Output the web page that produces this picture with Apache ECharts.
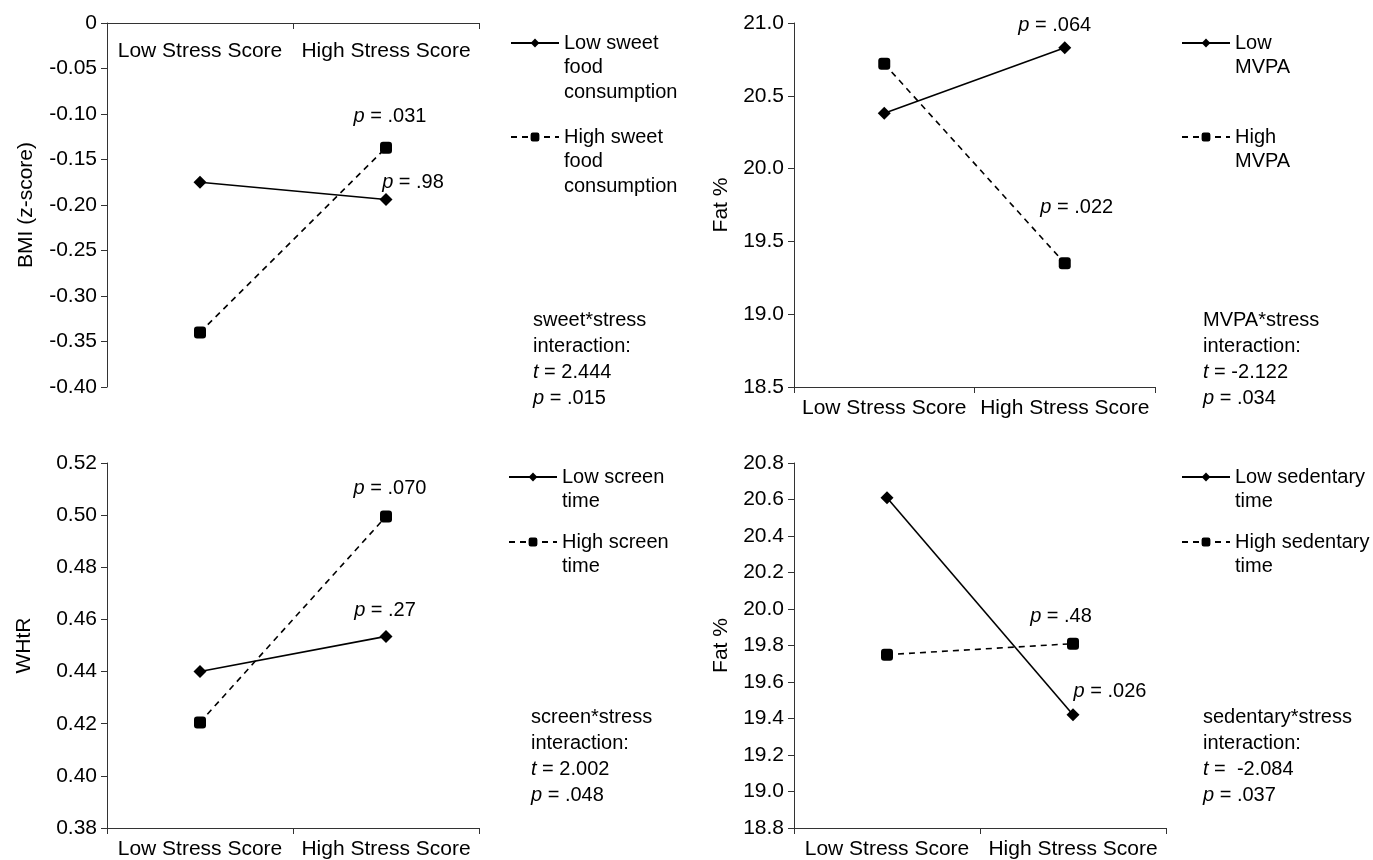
<!DOCTYPE html>
<html><head><meta charset="utf-8">
<script src="https://cdn.jsdelivr.net/npm/echarts@6/dist/echarts.min.js"></script>
<style>html,body{margin:0;padding:0;background:#fff}#c{width:1373px;height:860px}</style>
</head><body><div id="c"></div>
<script>
// ---------- data ----------
const categories = ['Low Stress Score', 'High Stress Score'];

const p1Names = ['Low sweet food consumption', 'High sweet food consumption'];
const p1Low = [-0.175, -0.194];
const p1High = [-0.340, -0.137];
const p1Ticks = ['-0.40', '-0.35', '-0.30', '-0.25', '-0.20', '-0.15', '-0.10', '-0.05', '0'];
const p1LowP = ['', '{i|p} = .98'];
const p1HighP = ['', '{i|p} = .031'];
const p1Legend = ['Low sweet\nfood\nconsumption', 'High sweet\nfood\nconsumption'];
const p1Inter = ['sweet*stress', 'interaction:', '{i|t} = 2.444', '{i|p} = .015'];

const p2Names = ['Low MVPA', 'High MVPA'];
const p2Low = [20.38, 20.83];
const p2High = [20.72, 19.35];
const p2Ticks = ['18.5', '19.0', '19.5', '20.0', '20.5', '21.0'];
const p2LowP = ['', '{i|p} = .064'];
const p2HighP = ['', '{i|p} = .022'];
const p2Legend = ['Low\nMVPA', 'High\nMVPA'];
const p2Inter = ['MVPA*stress', 'interaction:', '{i|t} = -2.122', '{i|p} = .034'];

const p3Names = ['Low screen time', 'High screen time'];
const p3Low = [0.440, 0.4535];
const p3High = [0.4205, 0.4995];
const p3Ticks = ['0.38', '0.40', '0.42', '0.44', '0.46', '0.48', '0.50', '0.52'];
const p3LowP = ['', '{i|p} = .27'];
const p3HighP = ['', '{i|p} = .070'];
const p3Legend = ['Low screen\ntime', 'High screen\ntime'];
const p3Inter = ['screen*stress', 'interaction:', '{i|t} = 2.002', '{i|p} = .048'];

const p4Names = ['Low sedentary time', 'High sedentary time'];
const p4Low = [20.61, 19.42];
const p4High = [19.75, 19.81];
const p4Ticks = ['18.8', '19.0', '19.2', '19.4', '19.6', '19.8', '20.0', '20.2', '20.4', '20.6', '20.8'];
const p4LowP = ['', '{i|p} = .026'];
const p4HighP = ['', '{i|p} = .48'];
const p4Legend = ['Low sedentary\ntime', 'High sedentary\ntime'];
const p4Inter = ['sedentary*stress', 'interaction:', '{i|t} =  -2.084', '{i|p} = .037'];

const yNames = ['BMI (z-score)', 'Fat %', 'WHtR', 'Fat %'];

// ---------- layout / style ----------
const FONT = 'Liberation Sans, Arial, Helvetica, sans-serif';
const AX = '#333';
const panels = [
  { names: p1Names, low: p1Low, high: p1High, ticks: p1Ticks, lowP: p1LowP, highP: p1HighP, legend: p1Legend, inter: p1Inter,
    grid: { left: 107, top: 23, width: 372, height: 364 }, min: -0.4, max: 0, interval: 0.05, xTop: true, labelMargin: 18, nameGap: 70,
    lowOff: [27, -17], highOff: [4, -31], legX: 510, legY: [43, 137], interX: 533, interY: 307 },
  { names: p2Names, low: p2Low, high: p2High, ticks: p2Ticks, lowP: p2LowP, highP: p2HighP, legend: p2Legend, inter: p2Inter,
    grid: { left: 794, top: 23, width: 361, height: 364 }, min: 18.5, max: 21, interval: 0.5, xTop: false, labelMargin: 11, nameGap: 62,
    lowOff: [-10, -22], highOff: [12, -56], legX: 1181, legY: [43, 137], interX: 1203, interY: 307 },
  { names: p3Names, low: p3Low, high: p3High, ticks: p3Ticks, lowP: p3LowP, highP: p3HighP, legend: p3Legend, inter: p3Inter,
    grid: { left: 107, top: 463, width: 372, height: 365 }, min: 0.38, max: 0.52, interval: 0.02, xTop: false, labelMargin: 11, nameGap: 72,
    lowOff: [-1, -26], highOff: [4, -28], legX: 508, legY: [477, 542], interX: 531, interY: 704 },
  { names: p4Names, low: p4Low, high: p4High, ticks: p4Ticks, lowP: p4LowP, highP: p4HighP, legend: p4Legend, inter: p4Inter,
    grid: { left: 794, top: 463, width: 372, height: 365 }, min: 18.8, max: 20.8, interval: 0.2, xTop: false, labelMargin: 11, nameGap: 62,
    lowOff: [37, -23], highOff: [-12, -27], legX: 1181, legY: [477, 542], interX: 1203, interY: 704 }
];

const LH = 24.5;
const rich = { i: { fontStyle: 'italic', fontSize: 20, fontFamily: FONT, color: '#000' } };

const option = {
  animation: false,
  backgroundColor: '#fff',
  textStyle: { fontFamily: FONT, color: '#000' },
  grid: [], xAxis: [], yAxis: [], series: [], legend: [], graphic: []
};

panels.forEach((p, k) => {
  option.grid.push(Object.assign({ containLabel: false, outerBoundsMode: 'none' }, p.grid));
  option.xAxis.push({
    type: 'category', gridIndex: k, data: categories, boundaryGap: true,
    position: p.xTop ? 'top' : 'bottom',
    axisLine: { onZero: false, lineStyle: { color: AX, width: 1 } },
    axisTick: { show: true, length: 6, inside: p.xTop, lineStyle: { color: AX } },
    axisLabel: { fontSize: 21, color: '#000', fontFamily: FONT, margin: p.labelMargin, interval: 0, inside: p.xTop },
    splitLine: { show: false }
  });
  option.yAxis.push({
    type: 'value', gridIndex: k, min: p.min, max: p.max, interval: p.interval,
    name: yNames[k], nameLocation: 'middle', nameRotate: 90, nameGap: p.nameGap,
    nameTextStyle: { fontSize: 21, color: '#000', fontFamily: FONT },
    axisLine: { show: true, onZero: false, lineStyle: { color: AX, width: 1 } },
    axisTick: { show: true, length: 6, lineStyle: { color: AX } },
    axisLabel: { fontSize: 21, color: '#000', fontFamily: FONT, margin: 10,
      formatter: (v, i) => p.ticks[i] },
    splitLine: { show: false }
  });
  const mk = (vals, ptxt, off) => vals.map((v, i) => ({
    value: v,
    label: ptxt[i] ? { show: true, formatter: ptxt[i], position: 'inside', offset: off,
      fontSize: 20, color: '#000', fontFamily: FONT, rich: rich } : { show: false }
  }));
  option.series.push({
    type: 'line', name: p.names[0], xAxisIndex: k, yAxisIndex: k,
    data: mk(p.low, p.lowP, p.lowOff),
    symbol: 'diamond', symbolSize: 13,
    lineStyle: { color: '#000', width: 1.6, type: 'solid' },
    itemStyle: { color: '#000' }, z: 3
  });
  option.series.push({
    type: 'line', name: p.names[1], xAxisIndex: k, yAxisIndex: k,
    data: mk(p.high, p.highP, p.highOff),
    symbol: 'roundRect', symbolSize: 12,
    lineStyle: { color: '#000', width: 1.6, type: [6, 5] },
    itemStyle: { color: '#000' }, z: 3
  });
  [0, 1].forEach(j => {
    const nLines = p.legend[j].split('\n').length;
    const total = 2 * nLines - 1;
    option.legend.push({
      data: [p.names[j]], orient: 'vertical', left: p.legX, top: p.legY[j] - total * LH / 2,
      padding: 0, itemGap: 0, itemWidth: 48, itemHeight: 11, selectedMode: false,
      formatter: () => '\n'.repeat(nLines - 1) + p.legend[j],
      textStyle: { fontSize: 20, lineHeight: LH, color: '#000', fontFamily: FONT }
    });
  });
  option.graphic.push({
    type: 'text', left: p.interX, top: p.interY,
    style: { text: p.inter.join('\n'), fill: '#000', fontSize: 20, fontFamily: FONT, lineHeight: 26, rich: rich }
  });
});

const chart = echarts.init(document.getElementById('c'), null, { renderer: 'canvas' });
chart.setOption(option);
</script></body></html>
